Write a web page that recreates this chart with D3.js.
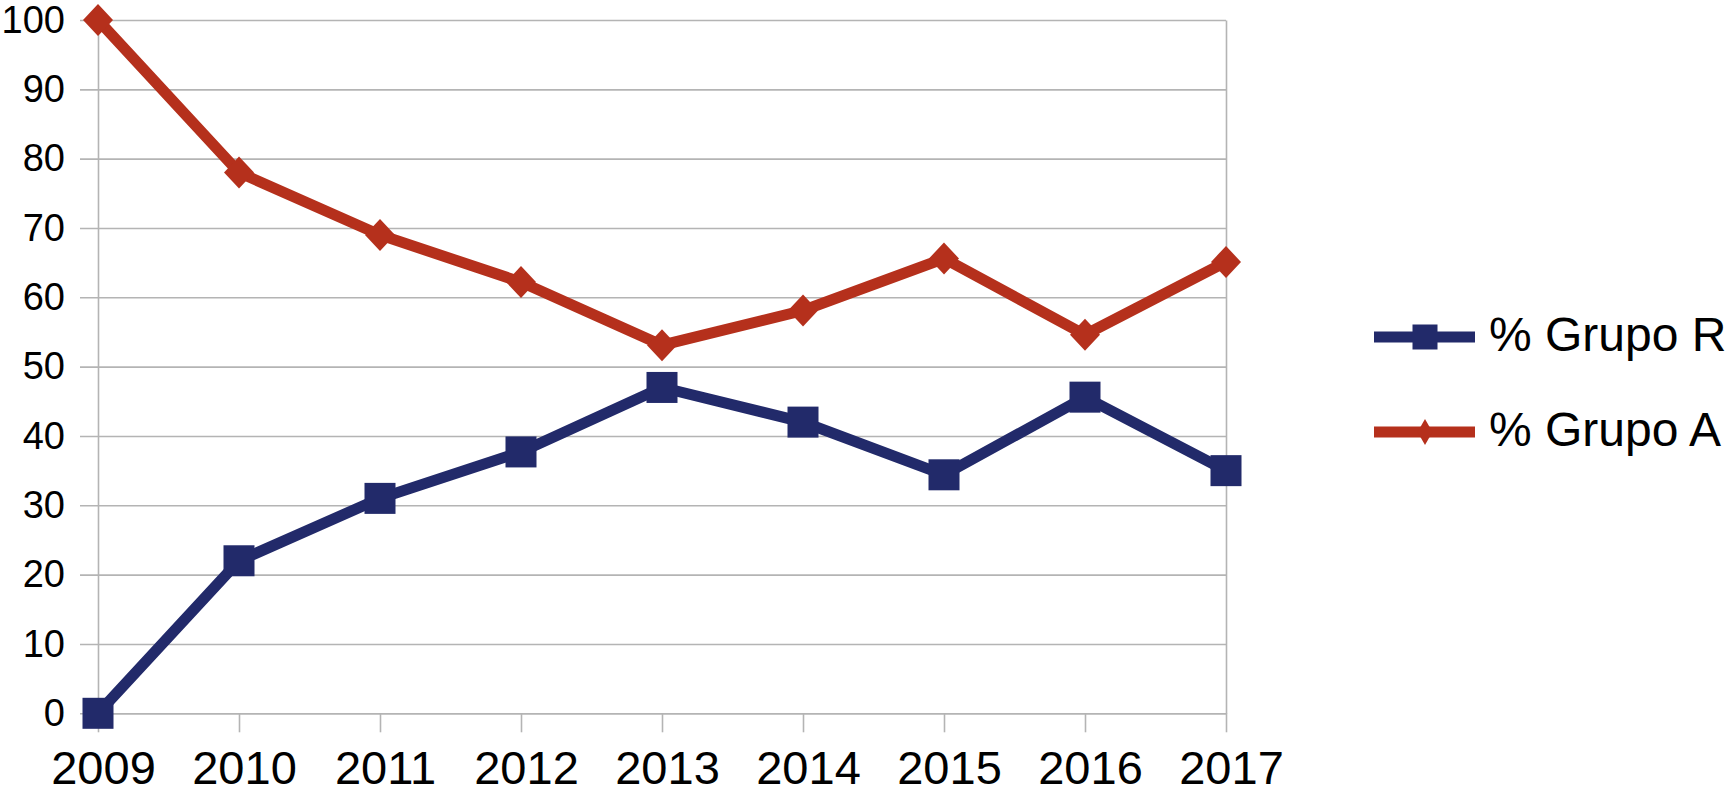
<!DOCTYPE html>
<html>
<head>
<meta charset="utf-8">
<script src="https://cdn.jsdelivr.net/npm/d3@7"></script>
<style>
  html, body { margin: 0; padding: 0; background: #fff; }
  svg { display: block; font-family: "Liberation Sans", Arial, Helvetica, sans-serif; }
</style>
</head>
<body>
<svg id="chart" width="1730" height="796"></svg>
<script>
const years = [2009, 2010, 2011, 2012, 2013, 2014, 2015, 2016, 2017];
const grupoR = [0, 22, 31, 37.7, 47, 42, 34.4, 45.6, 35];
const grupoA = [100, 78, 69, 62.2, 53.1, 58.1, 65.6, 54.6, 65.1];
const yTicks = [0, 10, 20, 30, 40, 50, 60, 70, 80, 90, 100];
const seriesNames = ["% Grupo R", "% Grupo A"];

const colR = "#222a6a";
const colA = "#b5301c";
const gridCol = "#b4b4b4";

const svg = d3.select("#chart");
const plotLeft = 98, plotRight = 1226, plotTop = 20, plotBottom = 713.3;

const x = d3.scalePoint().domain(years).range([plotLeft, plotRight]);
const y = d3.scaleLinear().domain([0, 100]).range([plotBottom, plotTop]);

// horizontal grid + y labels (axis placed at right edge, ticks reach left past the plot)
const gy = svg.append("g")
  .attr("transform", `translate(${plotRight},0)`)
  .call(d3.axisLeft(y).tickValues(yTicks).tickSizeInner(plotRight - 80).tickSizeOuter(0).tickPadding(15));
gy.selectAll("line").attr("stroke", gridCol).attr("stroke-width", 1.6);
gy.select(".domain").attr("stroke", gridCol).attr("stroke-width", 1.6);
gy.selectAll("text").attr("font-size", 38).attr("fill", "#000").attr("font-family", "Liberation Sans, Arial, sans-serif");

// left plot border
const gl = svg.append("g")
  .attr("transform", `translate(${plotLeft},0)`)
  .call(d3.axisLeft(y).tickValues([]).tickSizeOuter(0));
gl.select(".domain").attr("stroke", gridCol).attr("stroke-width", 1.6);

// x axis
const gx = svg.append("g")
  .attr("transform", `translate(0,${plotBottom})`)
  .call(d3.axisBottom(x).tickSizeInner(19).tickSizeOuter(0).tickPadding(18).tickFormat(d3.format("d")));
gx.selectAll("line").attr("stroke", gridCol).attr("stroke-width", 1.6);
gx.select(".domain").attr("stroke", gridCol).attr("stroke-width", 1.6);
gx.selectAll("text").attr("font-size", 47).attr("dx", 5).attr("fill", "#000").attr("font-family", "Liberation Sans, Arial, sans-serif");

const line = d3.line().x((d, i) => x(years[i])).y(d => y(d));

// Grupo A (red, diamonds)
svg.append("path").datum(grupoA).attr("d", line)
  .attr("fill", "none").attr("stroke", colA).attr("stroke-width", 11).attr("stroke-linejoin", "miter");
svg.append("g").selectAll("path").data(grupoA).join("path")
  .attr("transform", (d, i) => `translate(${x(years[i])},${y(d)})`)
  .attr("d", "M0,-16L15,0L0,16L-15,0Z")
  .attr("fill", colA);

// Grupo R (navy, squares)
svg.append("path").datum(grupoR).attr("d", line)
  .attr("fill", "none").attr("stroke", colR).attr("stroke-width", 11).attr("stroke-linejoin", "miter");
svg.append("g").selectAll("rect").data(grupoR).join("rect")
  .attr("x", (d, i) => x(years[i]) - 15.5)
  .attr("y", d => y(d) - 15.5)
  .attr("width", 31).attr("height", 31)
  .attr("fill", colR);

// legend
const legY = [337, 432];
const legCols = [colR, colA];
const leg = svg.append("g");
seriesNames.forEach((name, i) => {
  const g = leg.append("g").attr("transform", `translate(0,${legY[i]})`);
  g.append("line").attr("x1", 1374).attr("x2", 1475).attr("y1", 0).attr("y2", 0)
    .attr("stroke", legCols[i]).attr("stroke-width", 11);
  if (i === 0) {
    g.append("rect").attr("x", 1425 - 12.5).attr("y", -12.5).attr("width", 25).attr("height", 25).attr("fill", legCols[i]);
  } else {
    g.append("path").attr("transform", "translate(1425,0)").attr("d", "M0,-13L7.5,0L0,13L-7.5,0Z").attr("fill", legCols[i]);
  }
  g.append("text").attr("x", 1489).attr("y", 13.5).attr("font-size", 48).attr("fill", "#000").text(name);
});
</script>
</body>
</html>
